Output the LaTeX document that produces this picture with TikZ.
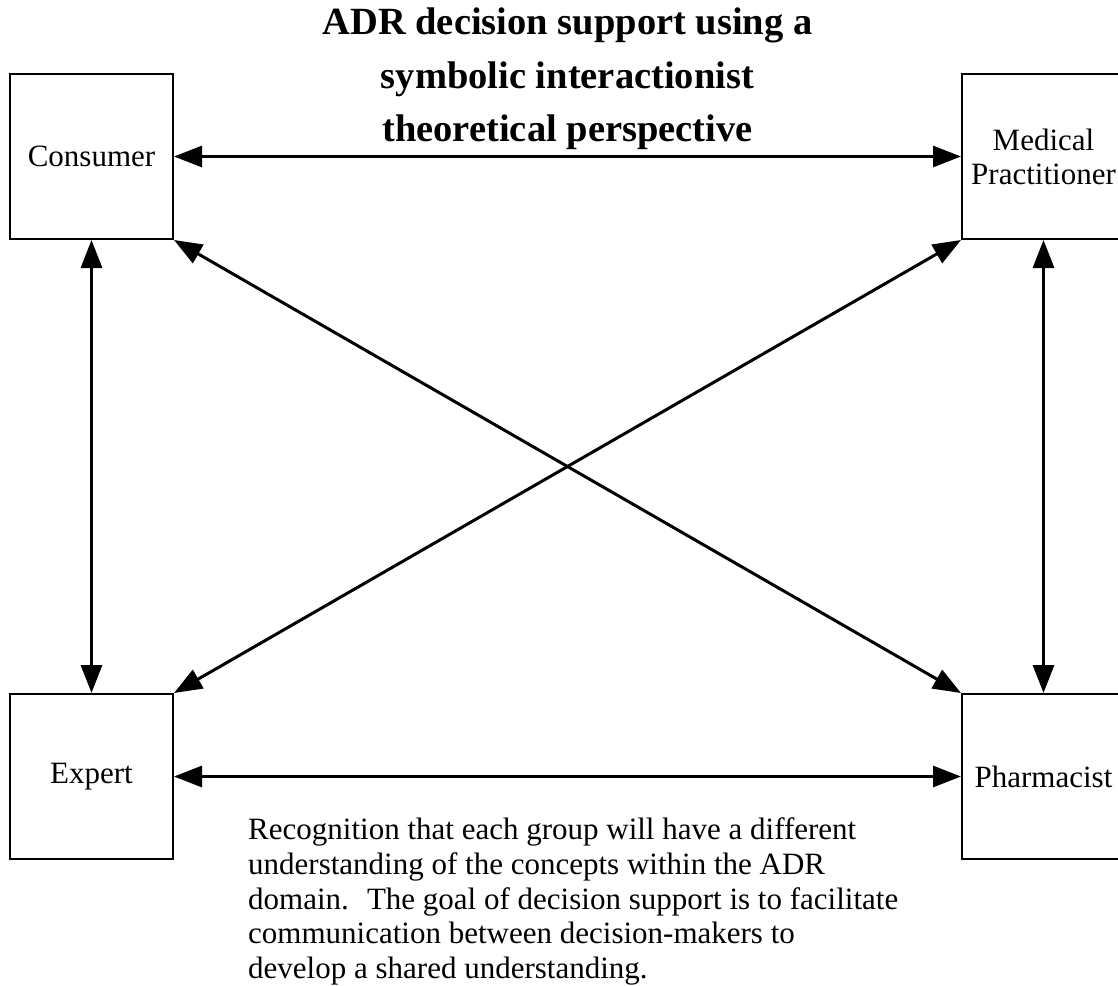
\documentclass[tikz,border=0pt]{standalone}
\usepackage{fontspec}
\setmainfont{Liberation Serif}
\usetikzlibrary{arrows.meta}
\begin{document}
\begin{tikzpicture}[x=1pt,y=-1pt,
  actor/.style={draw, line width=2pt, minimum width=163pt, minimum height=165pt,
    inner sep=0pt, align=center, font=\fontsize{31}{34}\selectfont},
  link/.style={line width=3pt,
    {Triangle[length=28pt,width=21pt]}-{Triangle[length=28pt,width=21pt]}},
  heading/.style={font=\bfseries\fontsize{38.5}{53.5}\selectfont, align=center, inner sep=0pt},
  note/.style={font=\fontsize{31}{34.75}\selectfont, align=left, inner sep=0pt}]
\useasboundingbox (0,0) rectangle (1118,985);
\clip (0,0) rectangle (1118,985);
\fill[white] (0,0) rectangle (1118,985);

% the four groups of decision-makers
\node[actor] (consumer) at (91.5,156.5) {Consumer};
\node[actor] (medical) at (1043.5,156.5) {Medical\\Practitioner};
\node[actor] (expert) at (91.5,776.5) {Expert};
\node[actor] (pharmacist) at (1043.5,776.5) {Pharmacist};

% two-way communication between every pair
\draw[link] (consumer.east) -- (medical.west);
\draw[link] (expert.east) -- (pharmacist.west);
\draw[link] (consumer.south) -- (expert.north);
\draw[link] (medical.south) -- (pharmacist.north);
\draw[link] (consumer.south east) -- (pharmacist.north west);
\draw[link] (medical.south west) -- (expert.north east);

% heading and explanatory note
\node[heading, anchor=north] (title) at (567.5,8)
  {ADR decision support using a\\symbolic interactionist\\theoretical perspective};
\node[note, anchor=north west] (remark) at (248,817.5)
  {Recognition that each group will have a different\\
   understanding of the concepts within the ADR\\
   domain.~ The goal of decision support is to facilitate\\
   communication between decision-makers to\\
   develop a shared understanding.};
\end{tikzpicture}
\end{document}
